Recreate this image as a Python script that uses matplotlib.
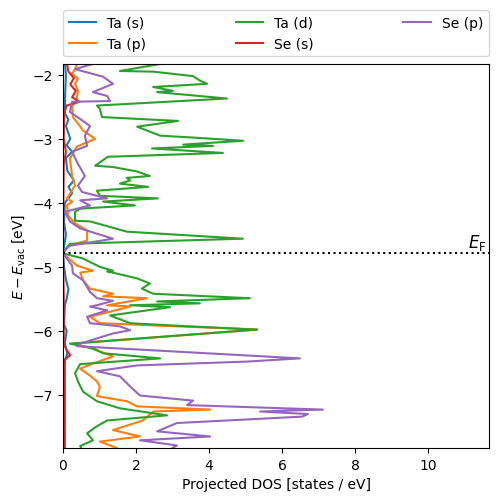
import matplotlib
matplotlib.use("Agg")
import matplotlib.pyplot as plt

E_FERMI = -4.79
XLIM = (0, 11.67)
YLIM = (-7.83, -1.83)

# Ta (d): energies and DOS
ta_d_E = [-1.80, -1.83, -1.94, -1.95, -2.02, -2.09, -2.14, -2.19, -2.25, -2.27, -2.37,
          -2.48, -2.53, -2.66, -2.72, -2.81, -2.95, -2.98, -3.03, -3.09, -3.11, -3.15,
          -3.22, -3.28, -3.42, -3.44, -3.51, -3.58, -3.61, -3.65, -3.70, -3.75, -3.81,
          -3.89, -3.93, -3.98, -4.04, -4.09, -4.14, -4.28, -4.29, -4.45, -4.56, -4.64,
          -4.75, -4.79, -4.87, -5.00, -5.06, -5.07, -5.18, -5.26, -5.34, -5.42, -5.49,
          -5.54, -5.57, -5.60, -5.63, -5.76, -5.88, -5.92, -5.98, -6.20, -6.27, -6.35,
          -6.43, -6.52, -6.66, -6.79, -6.95, -7.10, -7.21, -7.32, -7.40, -7.49, -7.60,
          -7.71, -7.80, -7.83]
ta_d = [2.70, 2.66, 1.56, 2.47, 3.56, 3.75, 3.95, 2.47, 3.01, 2.58, 4.49,
        0.93, 1.01, 1.07, 3.15, 2.03, 2.66, 3.56, 4.93, 3.29, 4.11, 2.44,
        4.38, 1.23, 0.88, 1.37, 2.03, 2.38, 1.75, 1.84, 1.56, 2.33, 0.93,
        1.01, 2.60, 1.10, 1.97, 0.47, 0.33, 0.33, 0.74, 1.75, 4.93, 0.19,
        0.05, 0.00, 0.55, 1.01, 1.37, 1.21, 2.03, 2.38, 2.16, 2.47, 5.12,
        2.58, 3.75, 1.84, 2.93, 1.29, 1.84, 3.12, 5.32, 0.19, 0.82, 1.10,
        2.66, 0.47, 0.33, 0.41, 0.55, 0.93, 1.56, 2.85, 1.21, 0.93, 0.66,
        0.82, 0.47, 0.50]

# Ta (p)
ta_p_E = [-1.80, -1.91, -1.98, -2.06, -2.14, -2.25, -2.37, -2.42, -2.48, -2.66, -2.76,
          -2.87, -3.00, -3.05, -3.12, -3.31, -3.58, -3.73, -3.93, -3.98, -4.04, -4.20,
          -4.32, -4.43, -4.59, -4.67, -4.76, -4.79, -4.98, -5.06, -5.09, -5.21, -5.34,
          -5.42, -5.46, -5.49, -5.60, -5.62, -5.78, -5.88, -5.93, -5.98, -6.20, -6.27,
          -6.32, -6.40, -6.51, -6.59, -6.70, -6.79, -6.87, -7.02, -7.10, -7.18, -7.23,
          -7.26, -7.40, -7.55, -7.65, -7.73, -7.83]
ta_p = [0.40, 0.33, 0.25, 0.41, 0.33, 0.41, 0.38, 0.38, 0.25, 0.27, 0.41,
        0.55, 0.88, 0.68, 0.38, 0.19, 0.25, 0.33, 0.11, 0.25, 0.11, 0.14,
        0.33, 0.66, 0.66, 0.14, 0.02, 0.00, 0.38, 0.82, 0.47, 0.55, 0.74,
        1.37, 1.10, 2.30, 1.21, 1.84, 0.74, 1.01, 3.15, 5.32, 0.27, 0.74,
        1.01, 1.37, 0.82, 0.47, 0.74, 0.93, 1.01, 0.93, 1.75, 2.03, 4.03,
        2.47, 2.19, 1.37, 2.11, 1.01, 1.47]

# Se (p)
se_p_E = [-1.80, -1.83, -1.91, -2.03, -2.14, -2.27, -2.33, -2.41, -2.42, -2.58, -2.69,
          -2.80, -2.95, -3.11, -3.20, -3.36, -3.58, -3.73, -3.83, -3.93, -3.96, -4.04,
          -4.14, -4.29, -4.40, -4.56, -4.67, -4.76, -4.79, -4.98, -5.10, -5.21, -5.39,
          -5.49, -5.53, -5.60, -5.62, -5.68, -5.78, -5.88, -5.93, -5.99, -6.04, -6.20,
          -6.24, -6.31, -6.43, -6.48, -6.54, -6.63, -6.71, -6.87, -7.01, -7.09, -7.16,
          -7.23, -7.26, -7.30, -7.34, -7.44, -7.57, -7.65, -7.71, -7.79, -7.83]
se_p = [0.88, 0.82, 0.33, 1.10, 1.37, 0.82, 1.21, 1.29, 0.25, 0.19, 0.47,
        0.74, 0.60, 0.66, 0.25, 0.38, 0.60, 0.41, 0.52, 1.21, 0.47, 0.74,
        0.05, 0.19, 0.47, 1.37, 0.19, 0.00, 0.00, 0.25, 0.27, 0.55, 0.74,
        0.93, 1.37, 0.93, 0.74, 1.21, 0.66, 0.74, 1.56, 1.84, 1.37, 0.47,
        0.38, 2.66, 6.49, 5.04, 2.03, 0.93, 1.56, 1.84, 2.11, 3.56, 3.40,
        7.12, 5.40, 6.71, 6.55, 3.12, 2.58, 4.03, 2.11, 3.12, 3.00]

# Ta (s)
ta_s_E = [-1.80, -2.00, -2.30, -2.60, -2.70, -2.80, -3.00, -3.10, -3.20, -3.30, -3.50,
          -3.65, -3.75, -3.85, -4.00, -4.30, -4.50, -4.79, -5.00, -5.20, -5.35, -5.50,
          -5.60, -5.90, -6.00, -6.20, -6.35, -6.50, -7.00, -7.50, -7.83]
ta_s = [0.05, 0.08, 0.06, 0.05, 0.15, 0.08, 0.20, 0.10, 0.25, 0.08, 0.12,
        0.30, 0.15, 0.25, 0.05, 0.03, 0.08, 0.00, 0.03, 0.08, 0.15, 0.10,
        0.05, 0.03, 0.10, 0.05, 0.12, 0.03, 0.02, 0.03, 0.02]

# Se (s)
se_s_E = [-1.80, -1.95, -2.05, -2.15, -2.25, -2.35, -2.42, -2.48, -2.60, -3.00, -3.20,
          -3.40, -4.00, -4.79, -5.50, -6.20, -6.30, -6.38, -6.45, -7.00, -7.50, -7.83]
se_s = [0.10, 0.15, 0.30, 0.20, 0.35, 0.25, 0.45, 0.10, 0.03, 0.02, 0.08,
        0.02, 0.01, 0.00, 0.02, 0.02, 0.10, 0.20, 0.05, 0.05, 0.05, 0.05]

series = [
    ("Ta (s)", ta_s_E, ta_s, "C0"),
    ("Ta (p)", ta_p_E, ta_p, "C1"),
    ("Ta (d)", ta_d_E, ta_d, "C2"),
    ("Se (s)", se_s_E, se_s, "C3"),
    ("Se (p)", se_p_E, se_p, "C4"),
]

fig = plt.figure(figsize=(4.98, 5.02), dpi=100)
ax = fig.add_axes([0.1265, 0.1056, 0.8555, 0.765])
for label, E, d, c in series:
    ax.plot(d, E, color=c, lw=1.5, label=label)

ax.axhline(E_FERMI, color="k", ls=":", lw=1.5)
ax.text(11.6, E_FERMI + 0.02, r"$E_\mathrm{F}$", ha="right", va="bottom", fontsize=12)

ax.set_xlim(*XLIM)
ax.set_ylim(*YLIM)
ax.set_xlabel("Projected DOS [states / eV]")
ax.set_ylabel(r"$E - E_\mathrm{vac}$ [eV]")
ax.legend(bbox_to_anchor=(0, 1.02, 1, 0.2), loc="lower left", mode="expand",
          ncol=3, borderaxespad=0)

fig.savefig("out.png", dpi=100)
